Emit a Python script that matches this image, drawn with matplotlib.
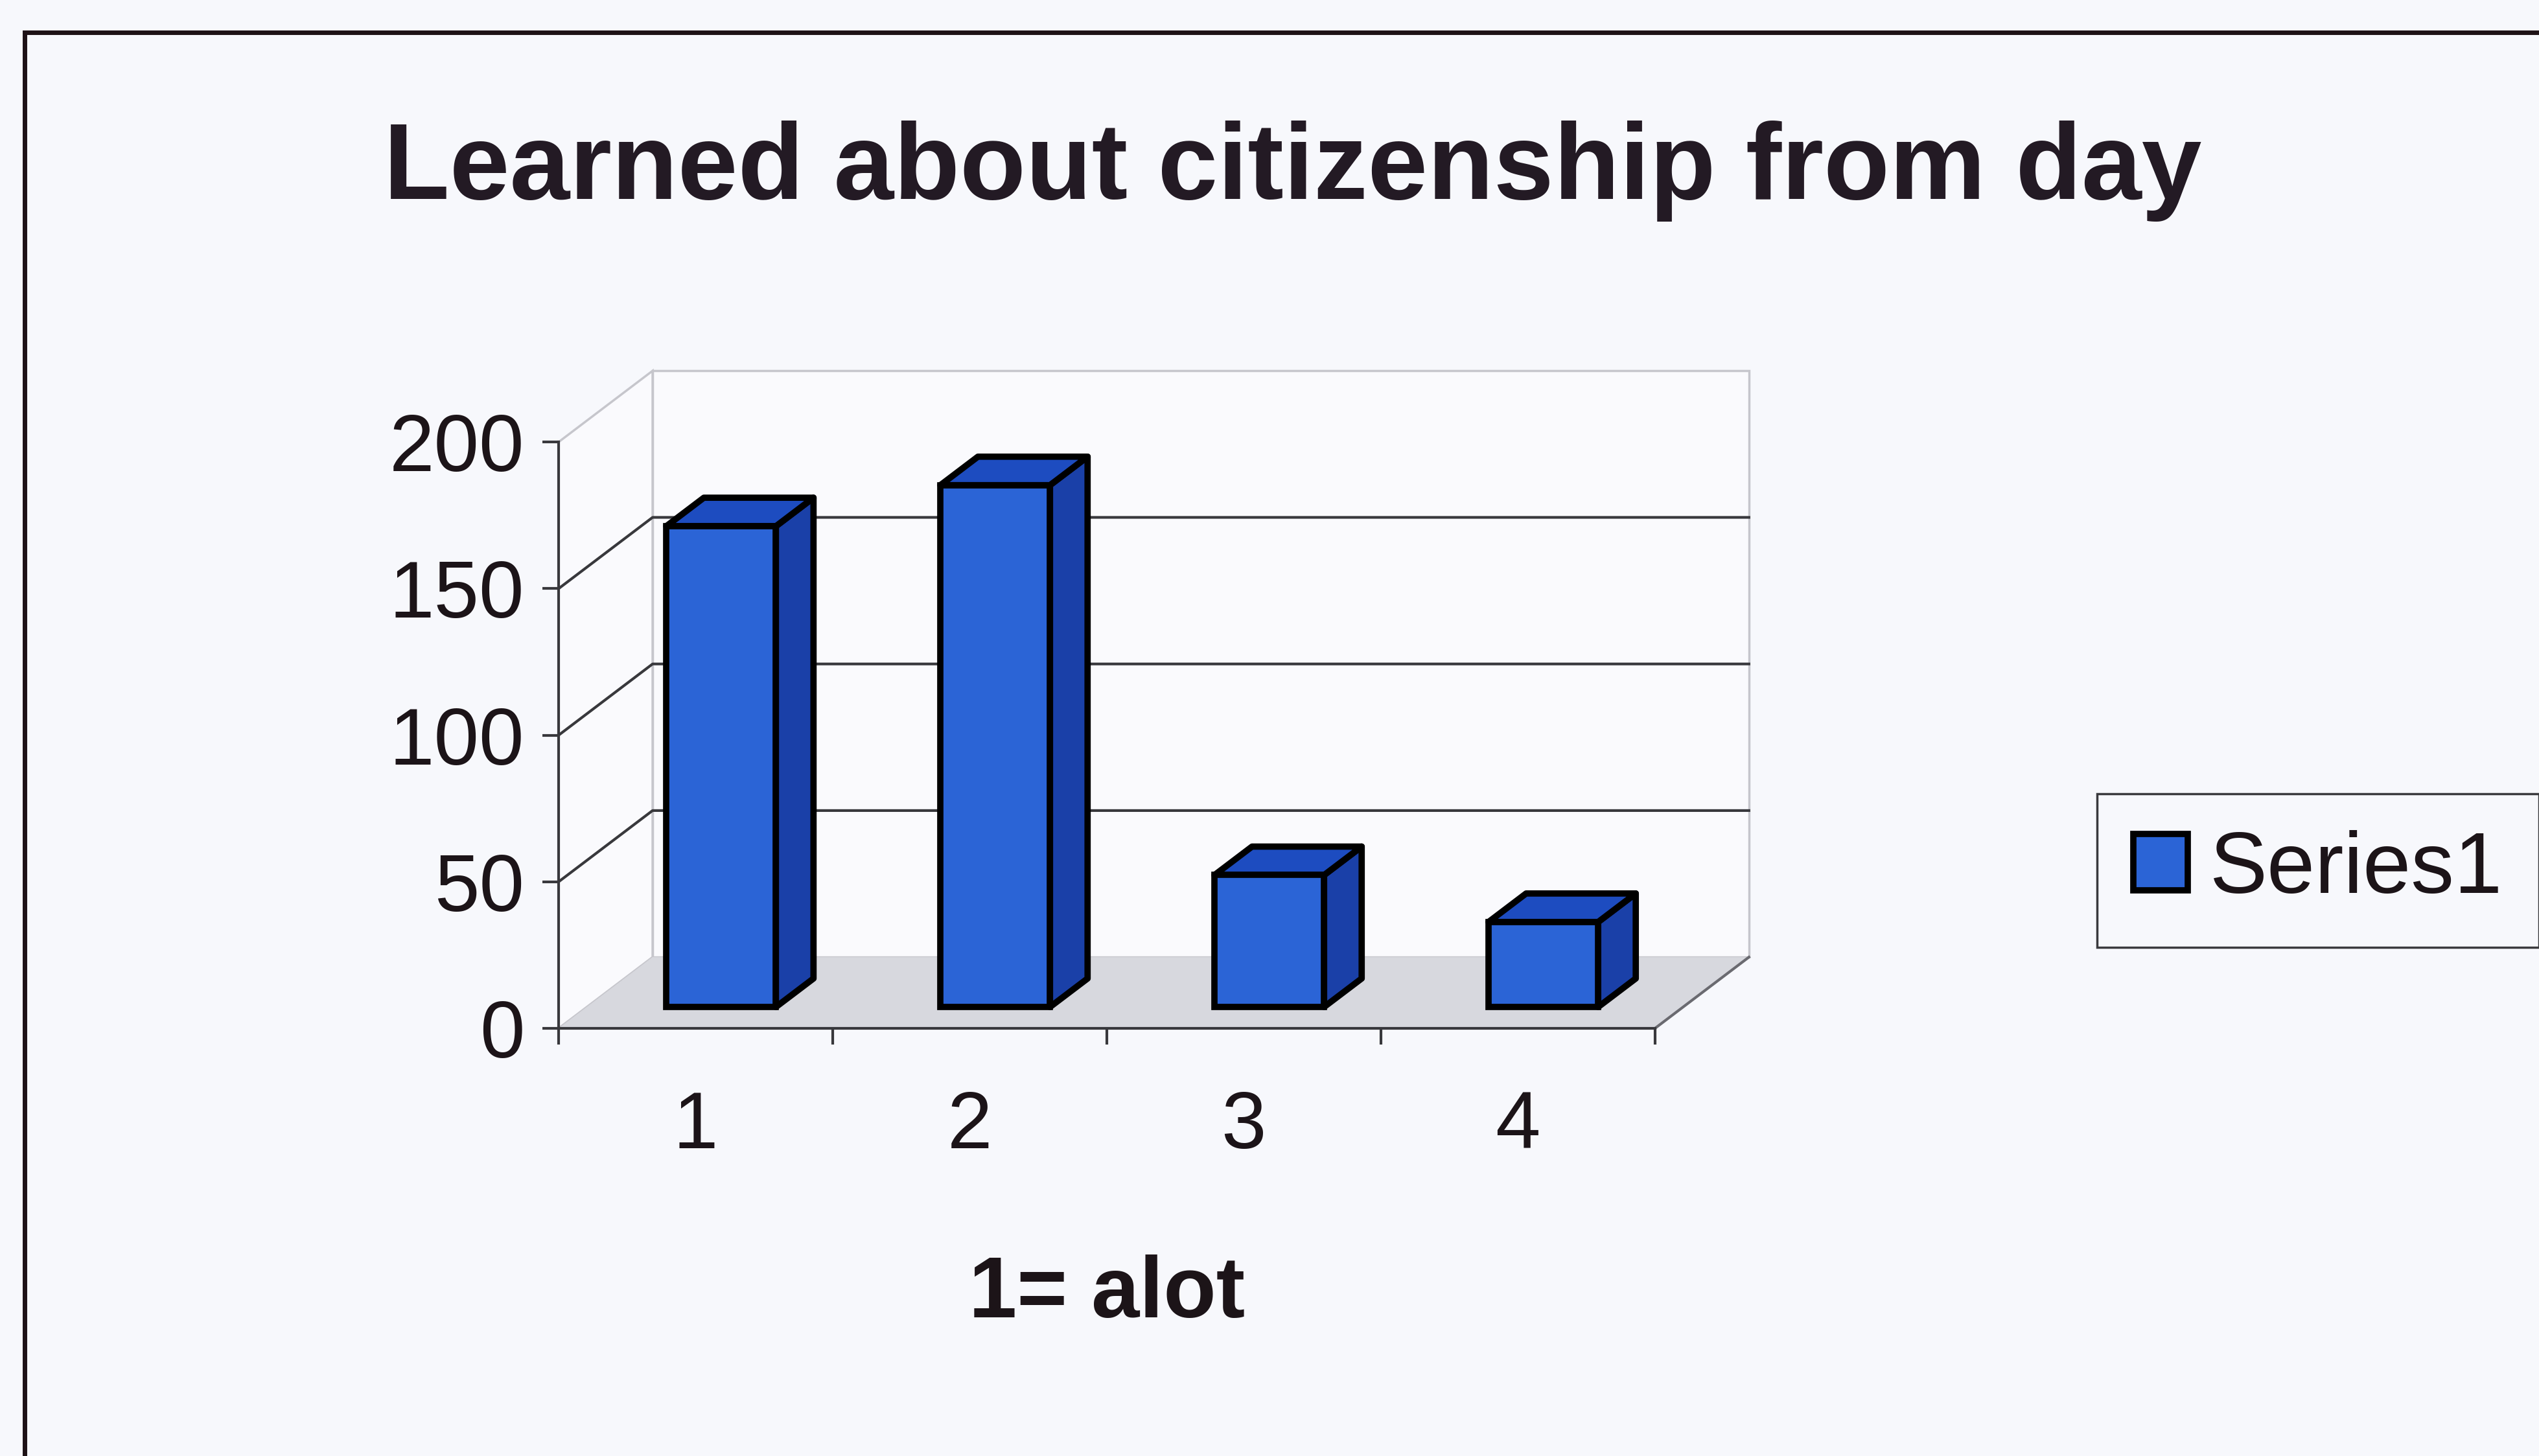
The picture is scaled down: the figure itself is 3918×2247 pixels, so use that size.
import matplotlib
matplotlib.use("Agg")
import matplotlib.pyplot as plt
from matplotlib.patches import Polygon, Rectangle

# Survey answers: 1 = a lot ... 4 = not at all
categories = ["1", "2", "3", "4"]
values = [164, 178, 45, 29]
y_ticks = [0, 50, 100, 150, 200]
series_name = "Series1"

plt.rcParams["font.family"] = ["Liberation Sans", "DejaVu Sans"]

bg = "#f7f8fc"
wall = "#fafafd"
wall_edge = "#c6c6cc"
floor_col = "#d7d8de"
grid_col = "#38383c"
front_col = "#2b64d6"
side_col = "#1a40a8"
top_col = "#1d4cc0"

fig = plt.figure(figsize=(39.18, 22.47), dpi=100)
fig.patch.set_facecolor(bg)

# front plane of the 3d box
ax = fig.add_axes([0.2200, 0.2937, 0.4318, 0.4027])
ax.set_xlim(0, len(categories))
ax.set_ylim(y_ticks[0], y_ticks[-1])
ax.patch.set_visible(False)

# depth of the box, in data units
dx, dy = 0.343, 24.3
n = len(categories)
ymax = y_ticks[-1]

# back wall, side wall and floor
ax.add_patch(Polygon([(dx, dy), (n + dx, dy), (n + dx, ymax + dy), (dx, ymax + dy)],
                     closed=True, facecolor=wall, edgecolor=wall_edge, lw=2.5,
                     zorder=0, clip_on=False))
ax.add_patch(Polygon([(0, 0), (dx, dy), (dx, ymax + dy), (0, ymax)],
                     closed=True, facecolor=wall, edgecolor=wall_edge, lw=2.5,
                     zorder=0, clip_on=False))
ax.add_patch(Polygon([(0, 0), (n, 0), (n + dx, dy), (dx, dy)],
                     closed=True, facecolor=floor_col, edgecolor="none",
                     zorder=1, clip_on=False))
ax.plot([n, n + dx], [0, dy], color="#6a6a70", lw=3, zorder=1, clip_on=False)

# gridlines running along the side wall and the back wall
for v in y_ticks[1:-1]:
    ax.plot([0, dx, n + dx], [v, v + dy, v + dy], color=grid_col, lw=3,
            zorder=2, clip_on=False)

# columns: front faces through ax.bar, sides and tops as polygons
f0, depth, width = 0.3, 0.4, 0.4
lefts = [i + 0.29 + f0 * dx for i in range(n)]
base = f0 * dy
bars = ax.bar(lefts, values, width=width, bottom=base, align="edge",
              color=front_col, edgecolor="black", lw=7, zorder=6,
              clip_on=False, label=series_name)
for left, v in zip(lefts, values):
    right = left + width
    ox, oy = depth * dx, depth * dy
    ax.add_patch(Polygon([(right, base), (right + ox, base + oy),
                          (right + ox, base + oy + v), (right, base + v)],
                         closed=True, facecolor=side_col, edgecolor="black",
                         lw=7, joinstyle="round", zorder=5, clip_on=False))
    ax.add_patch(Polygon([(left, base + v), (right, base + v),
                          (right + ox, base + v + oy), (left + ox, base + v + oy)],
                         closed=True, facecolor=top_col, edgecolor="black",
                         lw=7, joinstyle="round", zorder=5, clip_on=False))

# axes
for s in ["top", "right"]:
    ax.spines[s].set_visible(False)
for s in ["left", "bottom"]:
    ax.spines[s].set_color(grid_col)
    ax.spines[s].set_linewidth(3)
    ax.spines[s].set_zorder(3)

ax.set_yticks(y_ticks)
ax.tick_params(axis="y", length=18, width=3, color=grid_col, pad=20,
               labelsize=90, labelcolor="#1c1418")
ax.set_xticks(range(n + 1))
ax.set_xticklabels([])
ax.set_xticks([i + 0.5 for i in range(n)], minor=True)
ax.set_xticklabels(categories, minor=True)
ax.tick_params(axis="x", which="major", length=18, width=3, color=grid_col)
ax.tick_params(axis="x", which="minor", length=0, pad=68, labelsize=90,
               labelcolor="#1c1418")
ax.set_xlabel("1= alot", fontsize=96, fontweight="bold", color="#1c1418",
              labelpad=100)

fig.text(0.509, 0.8632, "Learned about citizenship from day", ha="center",
         va="baseline", fontsize=120, fontweight="bold", color="#231a24")

leg = fig.legend(handles=[bars], labels=[series_name], loc="upper left",
                 bbox_to_anchor=(0.826, 0.455), borderaxespad=0,
                 fontsize=96, handlelength=0.63, handleheight=0.63,
                 handletextpad=0.25, borderpad=0.42, fancybox=False,
                 framealpha=1)
leg.get_frame().set_edgecolor("#3a3a3e")
leg.get_frame().set_linewidth(2.5)
leg.get_frame().set_facecolor(bg)
for t in leg.get_texts():
    t.set_color("#1c1418")

# outer chart border
fig.add_artist(Rectangle((0.0096, -0.05), 1.2, 0.9778 + 0.05,
                         transform=fig.transFigure, fill=False,
                         edgecolor="#1e1216", lw=5))

fig.savefig("out.png", dpi=100, facecolor=fig.get_facecolor())
